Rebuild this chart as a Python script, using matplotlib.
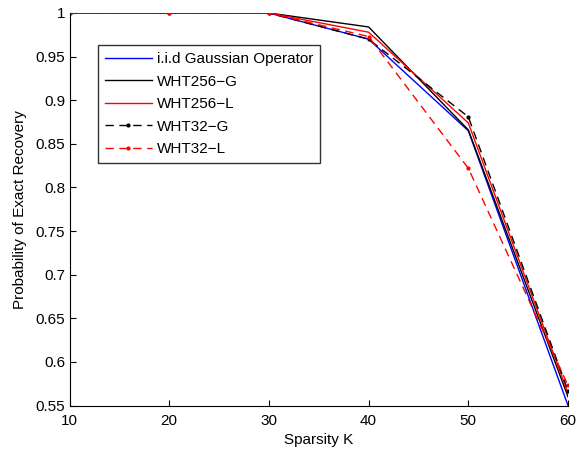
import matplotlib
matplotlib.use('Agg')
import matplotlib.pyplot as plt

plt.rcParams['font.family'] = ['Liberation Sans', 'DejaVu Sans']

sparsity = [10, 20, 30, 40, 50, 60]
gaussian = [1.0, 1.0, 1.0, 0.970, 0.865, 0.550]
wht256_g = [1.0, 1.0, 1.0, 0.984, 0.866, 0.560]
wht256_l = [1.0, 1.0, 1.0, 0.978, 0.874, 0.564]
wht32_g = [1.0, 1.0, 1.0, 0.970, 0.881, 0.567]
wht32_l = [1.0, 1.0, 1.0, 0.973, 0.822, 0.573]

labels = ['i.i.d Gaussian Operator', 'WHT256\u2212G', 'WHT256\u2212L',
          'WHT32\u2212G', 'WHT32\u2212L']
xticks = [10, 20, 30, 40, 50, 60]
yticks = [0.55, 0.6, 0.65, 0.7, 0.75, 0.8, 0.85, 0.9, 0.95, 1]

fig = plt.figure(figsize=(5.77, 4.55), dpi=100)
ax = fig.add_axes([69.5 / 577, 1 - 405.5 / 455, 498.5 / 577, 392.5 / 455])

ax.plot(sparsity, gaussian, color='blue', linewidth=1, label=labels[0])
ax.plot(sparsity, wht256_g, color='black', linewidth=1, label=labels[1])
ax.plot(sparsity, wht256_l, color='red', linewidth=1, label=labels[2])
ax.plot(sparsity, wht32_g, color='black', linestyle='--', marker='.',
        markersize=4, linewidth=1, dashes=(6, 4), label=labels[3])
ax.plot(sparsity, wht32_l, color='red', linestyle='--', marker='.',
        markersize=4, linewidth=1, dashes=(6, 4), label=labels[4])

ax.set_xlim(10, 60)
ax.set_ylim(0.55, 1)
ax.set_xticks(xticks)
ax.set_xticklabels([str(t) for t in xticks])
ax.set_yticks(yticks)
ax.set_yticklabels(['0.55', '0.6', '0.65', '0.7', '0.75', '0.8', '0.85',
                    '0.9', '0.95', '1'])
ax.tick_params(direction='in', length=4, labelsize=11)
ax.tick_params(axis='x', pad=6)
ax.tick_params(axis='y', pad=3)
ax.spines['top'].set_visible(False)
ax.spines['right'].set_visible(False)

ax.set_xlabel('Sparsity K', fontsize=11, labelpad=4)
ax.set_ylabel('Probability of Exact Recovery', fontsize=11, labelpad=6)

leg = ax.legend(loc='upper left', bbox_to_anchor=(0.057, 0.918), fontsize=11,
                frameon=True, fancybox=False, edgecolor='black',
                handlelength=3.1, borderpad=0.45, labelspacing=0.56,
                handletextpad=0.3, borderaxespad=0)
leg.get_frame().set_linewidth(1)

fig.savefig('out.png', dpi=100)
